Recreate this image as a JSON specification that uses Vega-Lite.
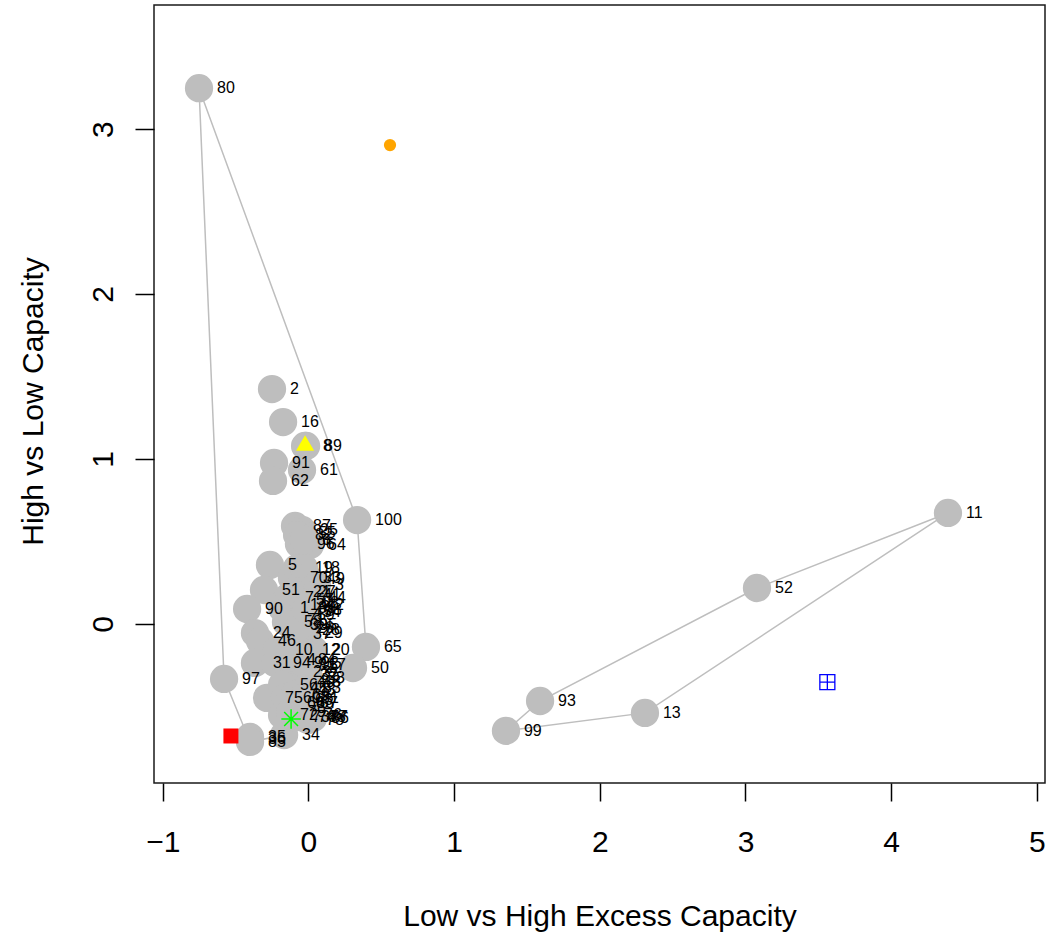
{
  "$schema": "https://vega.github.io/schema/vega-lite/v6.json",
  "autosize": {"type": "none"},
  "padding": {"left": 154, "top": 5, "right": 2, "bottom": 152},
  "width": 891,
  "height": 778,
  "config": {
    "view": {"stroke": "#1a1a1a", "strokeWidth": 1.5},
    "font": "Liberation Sans"
  },
  "datasets": {
    "pts": [
      {"id": 80, "x": -0.751, "y": 3.248},
      {"id": 2, "x": -0.25, "y": 1.424},
      {"id": 16, "x": -0.174, "y": 1.224},
      {"id": 8, "x": -0.023, "y": 1.079},
      {"id": 89, "x": -0.016, "y": 1.079},
      {"id": 91, "x": -0.236, "y": 0.976},
      {"id": 62, "x": -0.243, "y": 0.867},
      {"id": 61, "x": -0.044, "y": 0.933},
      {"id": 100, "x": 0.334, "y": 0.63},
      {"id": 11, "x": 4.39, "y": 0.673},
      {"id": 52, "x": 3.079, "y": 0.218},
      {"id": 93, "x": 1.59, "y": -0.467},
      {"id": 13, "x": 2.31, "y": -0.539},
      {"id": 99, "x": 1.356, "y": -0.648},
      {"id": 65, "x": 0.395, "y": -0.139},
      {"id": 50, "x": 0.306, "y": -0.267},
      {"id": 97, "x": -0.579, "y": -0.333},
      {"id": 35, "x": -0.401, "y": -0.685},
      {"id": 36, "x": -0.401, "y": -0.697},
      {"id": 85, "x": -0.401, "y": -0.715},
      {"id": 34, "x": -0.167, "y": -0.673},
      {"id": 5, "x": -0.264, "y": 0.358},
      {"id": 51, "x": -0.305, "y": 0.206},
      {"id": 90, "x": -0.421, "y": 0.091},
      {"id": 24, "x": -0.367, "y": -0.055},
      {"id": 46, "x": -0.332, "y": -0.103},
      {"id": 10, "x": -0.216, "y": -0.158},
      {"id": 12, "x": -0.03, "y": -0.158},
      {"id": 20, "x": 0.038, "y": -0.158},
      {"id": 29, "x": -0.01, "y": -0.055},
      {"id": 31, "x": -0.367, "y": -0.236},
      {"id": 94, "x": -0.229, "y": -0.236},
      {"id": 75, "x": -0.284, "y": -0.448},
      {"id": 70, "x": -0.113, "y": 0.279},
      {"id": 87, "x": -0.092, "y": 0.594},
      {"id": 25, "x": -0.044, "y": 0.57},
      {"id": 55, "x": -0.058, "y": 0.552},
      {"id": 82, "x": -0.078, "y": 0.539},
      {"id": 96, "x": -0.065, "y": 0.485},
      {"id": 64, "x": 0.011, "y": 0.479},
      {"id": 6, "x": -0.03, "y": 0.509},
      {"id": 19, "x": -0.078, "y": 0.339},
      {"id": 18, "x": -0.03, "y": 0.339},
      {"id": 49, "x": 0.004, "y": 0.273},
      {"id": 33, "x": -0.023, "y": 0.279},
      {"id": 3, "x": 0.059, "y": 0.236},
      {"id": 7, "x": -0.147, "y": 0.158},
      {"id": 21, "x": -0.092, "y": 0.194},
      {"id": 27, "x": -0.058, "y": 0.194},
      {"id": 41, "x": -0.023, "y": 0.176},
      {"id": 44, "x": 0.011, "y": 0.158},
      {"id": 57, "x": -0.071, "y": 0.145},
      {"id": 68, "x": -0.037, "y": 0.127},
      {"id": 1, "x": -0.181, "y": 0.097},
      {"id": 14, "x": -0.113, "y": 0.115},
      {"id": 39, "x": -0.058, "y": 0.097},
      {"id": 42, "x": -0.003, "y": 0.115},
      {"id": 47, "x": -0.085, "y": 0.073},
      {"id": 54, "x": -0.023, "y": 0.073},
      {"id": 59, "x": -0.065, "y": 0.055},
      {"id": 71, "x": -0.133, "y": 0.024},
      {"id": 58, "x": -0.154, "y": 0.012},
      {"id": 30, "x": -0.113, "y": -0.006},
      {"id": 26, "x": -0.071, "y": -0.024},
      {"id": 28, "x": -0.03, "y": -0.036},
      {"id": 37, "x": -0.092, "y": -0.061},
      {"id": 4, "x": -0.133, "y": -0.218},
      {"id": 9, "x": -0.085, "y": -0.236},
      {"id": 15, "x": -0.044, "y": -0.248},
      {"id": 17, "x": 0.011, "y": -0.248},
      {"id": 22, "x": -0.016, "y": -0.267},
      {"id": 23, "x": -0.092, "y": -0.291},
      {"id": 32, "x": -0.044, "y": -0.309},
      {"id": 38, "x": 0.004, "y": -0.327},
      {"id": 40, "x": -0.065, "y": -0.352},
      {"id": 43, "x": -0.023, "y": -0.352},
      {"id": 45, "x": -0.113, "y": -0.388},
      {"id": 48, "x": -0.058, "y": -0.4},
      {"id": 53, "x": -0.023, "y": -0.388},
      {"id": 56, "x": -0.181, "y": -0.37},
      {"id": 60, "x": -0.161, "y": -0.448},
      {"id": 63, "x": -0.078, "y": -0.461},
      {"id": 66, "x": -0.133, "y": -0.479},
      {"id": 67, "x": -0.044, "y": -0.479},
      {"id": 69, "x": -0.099, "y": -0.43},
      {"id": 72, "x": -0.181, "y": -0.552},
      {"id": 73, "x": -0.099, "y": -0.564},
      {"id": 74, "x": -0.058, "y": -0.564},
      {"id": 76, "x": -0.016, "y": -0.552},
      {"id": 77, "x": 0.025, "y": -0.564},
      {"id": 78, "x": -0.003, "y": -0.582},
      {"id": 79, "x": -0.126, "y": -0.533},
      {"id": 81, "x": -0.037, "y": -0.448},
      {"id": 83, "x": -0.071, "y": -0.479},
      {"id": 84, "x": -0.058, "y": -0.218},
      {"id": 86, "x": 0.032, "y": -0.57},
      {"id": 88, "x": 0.011, "y": -0.564},
      {"id": 92, "x": -0.037, "y": -0.236},
      {"id": 95, "x": -0.051, "y": -0.006},
      {"id": 98, "x": -0.016, "y": 0.085}
    ],
    "hull": [
      {"g": "A", "o": 1, "x": -0.751, "y": 3.248},
      {"g": "A", "o": 2, "x": 0.334, "y": 0.63},
      {"g": "A", "o": 3, "x": 0.395, "y": -0.139},
      {"g": "A", "o": 4, "x": 0.306, "y": -0.267},
      {"g": "A", "o": 5, "x": 0.032, "y": -0.57},
      {"g": "A", "o": 6, "x": -0.167, "y": -0.673},
      {"g": "A", "o": 7, "x": -0.401, "y": -0.715},
      {"g": "A", "o": 8, "x": -0.579, "y": -0.333},
      {"g": "A", "o": 9, "x": -0.751, "y": 3.248},
      {"g": "B", "o": 1, "x": 4.39, "y": 0.673},
      {"g": "B", "o": 2, "x": 3.079, "y": 0.218},
      {"g": "B", "o": 3, "x": 1.59, "y": -0.467},
      {"g": "B", "o": 4, "x": 1.356, "y": -0.648},
      {"g": "B", "o": 5, "x": 2.31, "y": -0.539},
      {"g": "B", "o": 6, "x": 4.39, "y": 0.673}
    ],
    "marks": [
      {"k": "orange", "x": 0.56, "y": 2.903},
      {"k": "yellow", "x": -0.023, "y": 1.097},
      {"k": "red", "x": -0.532, "y": -0.679},
      {"k": "green", "x": -0.119, "y": -0.576},
      {"k": "blue", "x": 3.562, "y": -0.352}
    ]
  },
  "encoding": {
    "x": {
      "field": "x", "type": "quantitative",
      "scale": {"domain": [-1.06, 5.056], "nice": false, "zero": false},
      "axis": {
        "values": [-1, 0, 1, 2, 3, 4, 5],
        "domain": false, "grid": false,
        "tickSize": 18, "tickColor": "#000", "tickWidth": 1.5,
        "labelFontSize": 30, "labelColor": "#000", "labelFont": "Liberation Sans",
        "labelBaseline": "alphabetic", "labelPadding": 50, "labelFlush": false, "labelOverlap": false,
        "title": "Low vs High Excess Capacity",
        "titleFont": "Liberation Sans", "titleFontSize": 30, "titleFontWeight": "normal", "titleColor": "#000",
        "titleAlign": "center", "titleBaseline": "alphabetic", "titleX": 445.5, "titleY": 142
      }
    },
    "y": {
      "field": "y", "type": "quantitative",
      "scale": {"domain": [-0.964, 3.752], "nice": false, "zero": false},
      "axis": {
        "values": [0, 1, 2, 3],
        "domain": false, "grid": false,
        "tickSize": 19, "tickColor": "#000", "tickWidth": 1.5,
        "labelFontSize": 30, "labelColor": "#000", "labelFont": "Liberation Sans",
        "labelAngle": 270, "labelAlign": "center", "labelBaseline": "alphabetic", "labelPadding": 23,
        "labelFlush": false, "labelOverlap": false,
        "title": "High vs Low Capacity",
        "titleFont": "Liberation Sans", "titleFontSize": 30, "titleFontWeight": "normal", "titleColor": "#000",
        "titleAngle": 270, "titleAlign": "center", "titleBaseline": "alphabetic", "titleX": -112, "titleY": 396
      }
    }
  },
  "layer": [
    {
      "data": {"name": "hull"},
      "mark": {"type": "line", "color": "#bebebe", "strokeWidth": 1.5},
      "encoding": {
        "detail": {"field": "g", "type": "nominal"},
        "order": {"field": "o", "type": "quantitative"}
      }
    },
    {
      "data": {"name": "pts"},
      "mark": {"type": "circle", "size": 800, "color": "#bebebe", "opacity": 1}
    },
    {
      "data": {"name": "pts"},
      "mark": {"type": "text", "align": "left", "baseline": "middle", "dx": 18, "fontSize": 16, "font": "Liberation Sans", "color": "#000"},
      "encoding": {"text": {"field": "id", "type": "nominal"}}
    },
    {
      "data": {"name": "marks"},
      "transform": [{"filter": "datum.k === 'orange'"}],
      "mark": {"type": "circle", "size": 150, "color": "#ffa500", "opacity": 1}
    },
    {
      "data": {"name": "marks"},
      "transform": [{"filter": "datum.k === 'yellow'"}],
      "mark": {"type": "point", "shape": "triangle-up", "size": 330, "filled": true, "color": "#ffff00", "opacity": 1}
    },
    {
      "data": {"name": "marks"},
      "transform": [{"filter": "datum.k === 'red'"}],
      "mark": {"type": "square", "size": 225, "color": "#ff0000", "opacity": 1}
    },
    {
      "data": {"name": "marks"},
      "transform": [{"filter": "datum.k === 'green'"}],
      "mark": {"type": "point", "shape": "M-1,0L1,0M0,-1L0,1M-0.71,-0.71L0.71,0.71M-0.71,0.71L0.71,-0.71", "size": 380, "filled": false, "color": "#00ff00", "strokeWidth": 1.5, "opacity": 1}
    },
    {
      "data": {"name": "marks"},
      "transform": [{"filter": "datum.k === 'blue'"}],
      "mark": {"type": "point", "shape": "M-1,-1L1,-1L1,1L-1,1ZM-1,0L1,0M0,-1L0,1", "size": 225, "filled": false, "color": "#0000ff", "strokeWidth": 1.3, "opacity": 1}
    }
  ]
}
